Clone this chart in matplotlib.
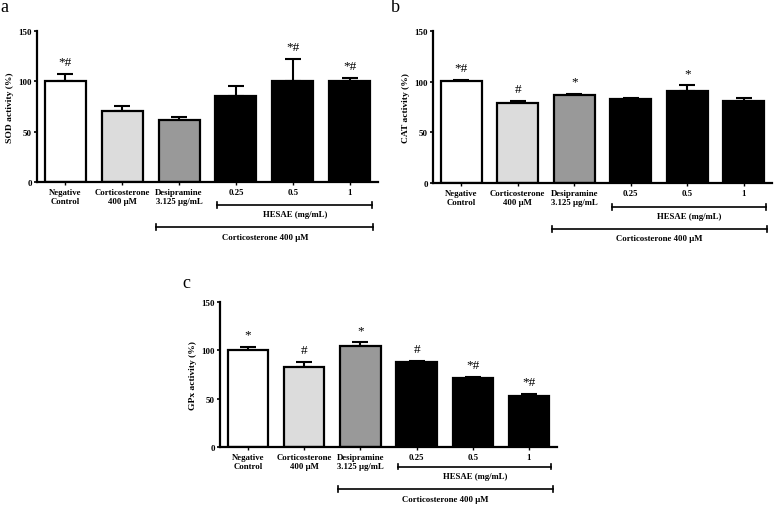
import matplotlib
matplotlib.use("Agg")
import matplotlib.pyplot as plt
import matplotlib.transforms as mtransforms

plt.rcParams['font.family'] = ['Liberation Serif', 'DejaVu Serif']

categories = ["Negative\nControl", "Corticosterone\n400 \u03bcM", "Desipramine\n3.125 \u03bcg/mL", "0.25", "0.5", "1"]
colors = ["#ffffff", "#dcdcdc", "#999999", "#000000", "#000000", "#000000"]

sod_mean = [100.5, 70.5, 62, 85.5, 100.5, 100]
sod_err = [6.5, 5, 2.5, 10, 21.5, 3]
sod_marks = ["*#", "", "", "", "*#", "*#"]

cat_mean = [100.5, 79, 87, 83, 90.7, 81.4]
cat_err = [1.3, 1.8, 1.0, 0.7, 6, 2.3]
cat_marks = ["*#", "#", "*", "", "*", ""]

gpx_mean = [100.4, 83.2, 104.9, 88, 71.5, 52.6]
gpx_err = [3.5, 4.5, 3.4, 0.7, 0.8, 2.6]
gpx_marks = ["*", "#", "*", "#", "*#", "*#"]

ylabels = ["SOD activity (%)", "CAT activity (%)", "GPx activity (%)"]
yticks = [0, 50, 100, 150]
hesae_label = "HESAE (mg/mL)"
cort_label = "Corticosterone 400 \u03bcM"

W, H = 776, 506
fig = plt.figure(figsize=(W / 100, H / 100), dpi=100)

def px_axes(left, right, top, bottom):
    return fig.add_axes([left / W, 1 - bottom / H, (right - left) / W, (bottom - top) / H])

ax_a = px_axes(37, 378, 32, 183)
ax_b = px_axes(433, 772, 32, 184)
ax_c = px_axes(220, 557, 303, 448)

def draw(ax, means, errs, marks, ylabel, letter, letter_xy, lines_y):
    x = list(range(len(means)))
    ax.bar(x, means, width=0.72, color=colors, edgecolor="black", linewidth=1.6, zorder=2)
    ax.errorbar(x, means, yerr=[[0] * len(errs), errs], fmt="none", ecolor="black",
                elinewidth=1.5, capsize=5.5, capthick=1.5, zorder=1)
    for xi, m, e, t in zip(x, means, errs, marks):
        if t:
            ax.text(xi, m + e + 6, t, ha="center", va="bottom", fontsize=9.5, clip_on=False)
    ax.set_xlim(-0.5, 5.5)
    ax.set_ylim(0, 150)
    ax.set_yticks(yticks)
    ax.set_xticks(x)
    ax.set_xticklabels(categories, fontsize=6.3, fontweight="bold", linespacing=1.1)
    for lab in ax.get_yticklabels():
        lab.set_fontsize(6.5)
        lab.set_fontweight("bold")
    ax.set_ylabel(ylabel, fontsize=6.8, fontweight="bold", labelpad=3)
    for s in ["top", "right"]:
        ax.spines[s].set_visible(False)
    for s in ["left", "bottom"]:
        ax.spines[s].set_linewidth(1.6)
    ax.tick_params(axis="y", length=2.5, width=1.2, pad=1)
    ax.tick_params(axis="x", length=2.5, width=1.0, pad=2)
    trans = mtransforms.blended_transform_factory(ax.transData, ax.transAxes)
    hy, hty, cy, cty = lines_y
    for (x0, x1, ly, ty, lab) in [(2.67, 5.40, hy, hty, hesae_label), (1.6, 5.42, cy, cty, cort_label)]:
        ax.plot([x0, x1], [ly, ly], color="black", lw=1.2, transform=trans, clip_on=False)
        for xx in (x0, x1):
            ax.plot([xx, xx], [ly - 0.02, ly + 0.02], color="black", lw=1.2, transform=trans, clip_on=False)
        ax.text((x0 + x1) / 2, ty, lab, transform=trans, ha="center", va="center",
                fontsize=6.3, fontweight="bold")
    fig.text(letter_xy[0] / W, 1 - letter_xy[1] / H, letter, fontsize=13, ha="left", va="center")

draw(ax_a, sod_mean, sod_err, sod_marks, ylabels[0], "a", (0, 8), (-0.155, -0.215, -0.3, -0.365))
draw(ax_b, cat_mean, cat_err, cat_marks, ylabels[1], "b", (391, 8), (-0.155, -0.215, -0.3, -0.365))
draw(ax_c, gpx_mean, gpx_err, gpx_marks, ylabels[2], "c", (182, 283), (-0.135, -0.2, -0.29, -0.358))

fig.savefig("out.png", dpi=100)
